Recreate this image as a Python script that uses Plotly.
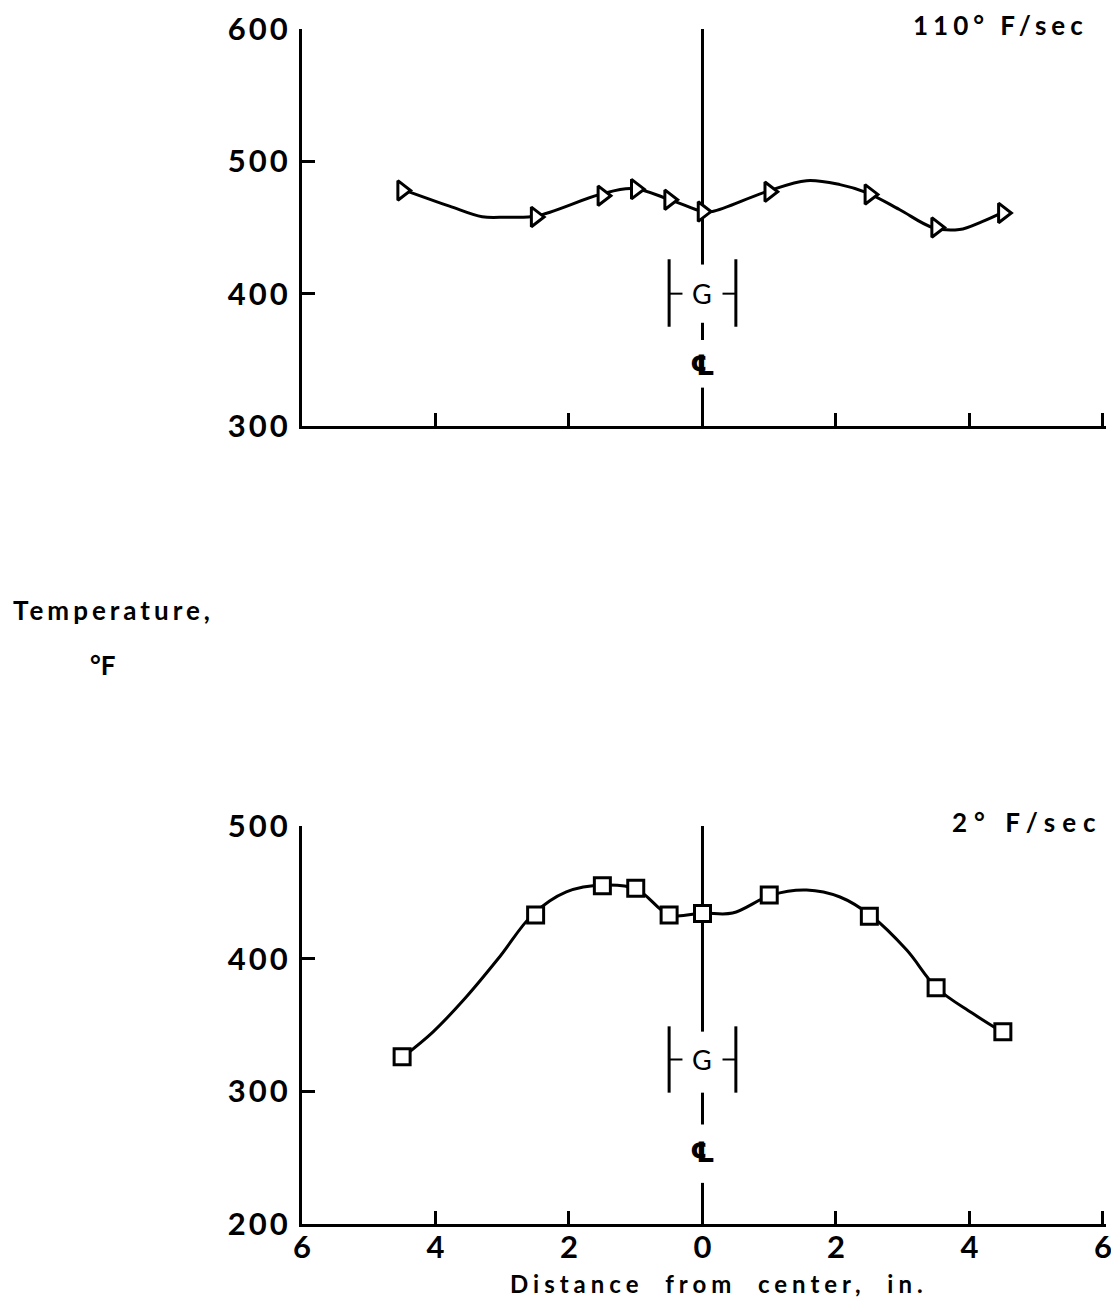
import plotly.graph_objects as go

# ---- data ----
pos_x = [-4.5, -2.5, -1.5, -1.0, -0.5, 0.0, 1.0, 2.5, 3.5, 4.5]
temp_fast = [478, 458, 474, 479, 471, 462, 477, 475, 450, 461]    # 110 deg F/sec
temp_slow = [326, 433, 455, 453, 433, 434, 448, 432, 378, 345]    # 2 deg F/sec

# faired curves as traced on the picture
fast_curve_x = [-4.49, -3.79, -3.30, -2.94, -2.49, -1.54, -1.05, -0.49, 0.0, 0.15,
                0.96, 1.56, 2.06, 2.46, 2.95, 3.45, 3.85, 4.19, 4.49]
fast_curve_y = [478.6, 466.1, 458.1, 457.8, 458.7, 474.9, 479.4, 471.1, 462.1, 462.1,
                477.1, 485.4, 482.4, 476.4, 463.6, 450.0, 448.5, 454.5, 461.3]
slow_curve_x = [-4.49, -4.04, -3.54, -3.04, -2.55, -2.04, -1.48, -0.99, -0.49, 0.0,
                0.45, 1.03, 1.56, 2.06, 2.53, 3.06, 3.51, 4.04, 4.49]
slow_curve_y = [325.9, 344.7, 371.1, 401.3, 432.9, 450.3, 455.5, 452.5, 432.9, 434.4,
                434.4, 448.0, 451.8, 446.5, 432.2, 406.5, 377.9, 359.0, 344.7]

x_ticks = [-6, -4, -2, 0, 2, 4, 6]
x_tick_text = ["6", "4", "2", "0", "2", "4", "6"]
fast_y_ticks = [300, 400, 500, 600]
slow_y_ticks = [200, 300, 400, 500]

# gauge (G) bracket half-width and centreline pieces (data units)
gauge_half = 0.5
fast_marks = dict(solid_top=(600, 422), bracket=(426, 375), g=400, dash=(378, 365), cl=346, dash2=(329, 300))
slow_marks = dict(solid_top=(500, 345), bracket=(349, 299), g=324, dash=(299, 275), cl=254, dash2=(231, 200))

FONT = "Lato"
INK = "black"


def spaced(t, px):
    return '<span style="letter-spacing:%dpx">%s</span>' % (px, t)


fig = go.Figure()

fig.add_trace(go.Scatter(x=fast_curve_x, y=fast_curve_y, mode="lines",
                         line=dict(color=INK, width=3, shape="spline", smoothing=1.0),
                         xaxis="x", yaxis="y", hoverinfo="skip"))
fig.add_trace(go.Scatter(x=pos_x, y=temp_fast, mode="markers",
                         marker=dict(symbol="triangle-right", size=17, color="white",
                                     line=dict(color=INK, width=3)),
                         xaxis="x", yaxis="y"))
fig.add_trace(go.Scatter(x=slow_curve_x, y=slow_curve_y, mode="lines",
                         line=dict(color=INK, width=3, shape="spline", smoothing=1.0),
                         xaxis="x2", yaxis="y2", hoverinfo="skip"))
fig.add_trace(go.Scatter(x=pos_x, y=temp_slow, mode="markers",
                         marker=dict(symbol="square", size=16, color="white",
                                     line=dict(color=INK, width=3)),
                         xaxis="x2", yaxis="y2"))

shapes = []
annotations = []


def centre_marks(xr, yr, m):
    ln = dict(color=INK, width=3)
    shapes.append(dict(type="line", xref=xr, yref=yr, x0=0, x1=0,
                       y0=m["solid_top"][0], y1=m["solid_top"][1], line=ln, layer="below"))
    shapes.append(dict(type="line", xref=xr, yref=yr, x0=0, x1=0,
                       y0=m["dash"][0], y1=m["dash"][1], line=ln))
    shapes.append(dict(type="line", xref=xr, yref=yr, x0=0, x1=0,
                       y0=m["dash2"][0], y1=m["dash2"][1], line=ln))
    for s in (-1, 1):
        shapes.append(dict(type="line", xref=xr, yref=yr, x0=s * gauge_half, x1=s * 0.3,
                           y0=m["g"], y1=m["g"], line=dict(color=INK, width=2)))
        shapes.append(dict(type="line", xref=xr, yref=yr, x0=s * gauge_half, x1=s * gauge_half,
                           y0=m["bracket"][0], y1=m["bracket"][1], line=ln))
    annotations.append(dict(x=0, y=m["g"], xref=xr, yref=yr, text="G", showarrow=False,
                            font=dict(family=FONT, size=27, color=INK)))
    annotations.append(dict(x=0, y=m["cl"], xref=xr, yref=yr, text="<b>℄</b>", showarrow=False,
                            font=dict(family="DejaVu Sans", size=28, color=INK)))


centre_marks("x", "y", fast_marks)
centre_marks("x2", "y2", slow_marks)

TF = dict(family=FONT, size=26, color=INK, weight="bold")

annotations += [
    dict(x=0.981, y=0.9868, xref="paper", yref="paper", xanchor="right", yanchor="middle",
         text=spaced("110° F/sec", 5), showarrow=False, font=TF),
    dict(x=0.9946, y=0.370, xref="paper", yref="paper", xanchor="right", yanchor="middle",
         text=spaced("2° F/sec", 7), showarrow=False, font=TF),
    dict(x=0.0961, y=0.534, xref="paper", yref="paper", xanchor="center", yanchor="middle",
         text=spaced("Temperature,", 4), showarrow=False, font=TF),
    dict(x=0.0861, y=0.4915, xref="paper", yref="paper", xanchor="center", yanchor="middle",
         text="°F", showarrow=False, font=TF),
    dict(x=0.6446, y=0.0, xref="paper", yref="paper", xanchor="center", yanchor="bottom",
         text=spaced("Distance  from  center,  in.", 5), showarrow=False,
         font=dict(TF, size=24)),
]

axis_common = dict(showgrid=False, zeroline=False, showline=True, linecolor=INK, linewidth=3,
                   ticks="inside", ticklen=13, tickwidth=2.5, tickcolor=INK, automargin=False,
                   ticklabeloverflow="allow",
                   tickfont=dict(family=FONT, size=31, color=INK, weight="bold"))


def ytext(vals):
    return [spaced(str(v), 3) for v in vals]


fig.update_layout(
    width=1103, height=1292,
    margin=dict(l=0, r=0, t=0, b=0),
    paper_bgcolor="white", plot_bgcolor="white",
    showlegend=False,
    shapes=shapes, annotations=annotations,
    xaxis=dict(axis_common, domain=[0.26655, 0.99575], range=[-6, 6.05], tickvals=x_ticks,
               showticklabels=False, anchor="y"),
    yaxis=dict(axis_common, domain=[0.67647, 0.98375], range=[300, 600], tickvals=fast_y_ticks,
               ticktext=ytext(fast_y_ticks), anchor="x", ticklabelstandoff=2),
    xaxis2=dict(axis_common, domain=[0.26655, 0.99575], range=[-6, 6.05], tickvals=x_ticks,
                ticktext=x_tick_text, anchor="y2", ticklabelstandoff=-6),
    yaxis2=dict(axis_common, domain=[0.05882, 0.36687], range=[200, 500], tickvals=slow_y_ticks,
                ticktext=ytext(slow_y_ticks), anchor="x2", ticklabelstandoff=2),
)

fig.write_html("out.html")
